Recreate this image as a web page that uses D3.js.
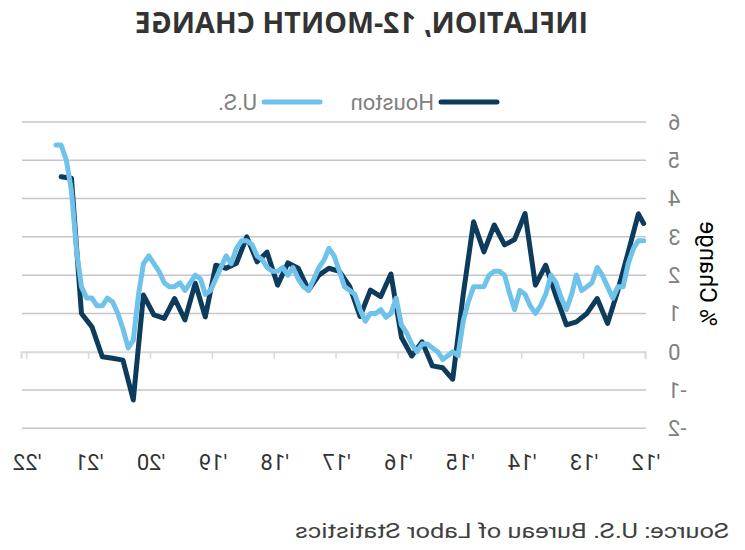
<!DOCTYPE html>
<html><head><meta charset="utf-8">
<script src="https://cdn.jsdelivr.net/npm/d3@7"></script>
<style>body{margin:0;background:#fff}svg{display:block}</style>
</head><body>
<script>
// ---- data ----
const titleText = "INFLATION, 12-MONTH CHANGE";
const yAxisTitle = "% Change";
const sourceText = "Source: U.S. Bureau of Labor Statistics";
const seriesNames = ["Houston", "U.S."];
const yTicks = [-2, -1, 0, 1, 2, 3, 4, 5, 6];
const xTickYears = [2012, 2013, 2014, 2015, 2016, 2017, 2018, 2019, 2020, 2021, 2022];

// U.S. CPI-U, 12-month % change, monthly Jan 2012 - Jul 2021
const usStartMonth = "2012-01";
const usValues = [
  2.9, 2.9, 2.7, 2.3, 1.7, 1.7, 1.4, 1.7, 2.0, 2.2, 1.8, 1.7,
  1.6, 2.0, 1.5, 1.1, 1.4, 1.8, 2.0, 1.5, 1.2, 1.0, 1.2, 1.5,
  1.6, 1.1, 1.5, 2.0, 2.1, 2.1, 2.0, 1.7, 1.7, 1.7, 1.3, 0.8,
  -0.1, 0.0, -0.1, -0.2, 0.0, 0.1, 0.2, 0.2, 0.0, 0.2, 0.5, 0.7,
  1.4, 1.0, 0.9, 1.1, 1.0, 1.0, 0.8, 1.1, 1.5, 1.6, 1.7, 2.1,
  2.5, 2.7, 2.4, 2.2, 1.9, 1.6, 1.7, 1.9, 2.2, 2.0, 2.2, 2.1,
  2.1, 2.2, 2.4, 2.5, 2.8, 2.9, 2.9, 2.7, 2.3, 2.5, 2.2, 1.9,
  1.6, 1.5, 1.9, 2.0, 1.8, 1.6, 1.8, 1.7, 1.7, 1.8, 2.1, 2.3,
  2.5, 2.3, 1.5, 0.3, 0.1, 0.6, 1.0, 1.3, 1.4, 1.2, 1.2, 1.4,
  1.4, 1.7, 2.6, 4.2, 5.0, 5.4, 5.4
];

// Houston CPI-U, 12-month % change (bimonthly)
const houstonMonths = [
  "2012-01","2012-02","2012-04","2012-06","2012-08","2012-10","2012-12",
  "2013-02","2013-04","2013-06","2013-08","2013-10","2013-12",
  "2014-02","2014-04","2014-06","2014-08","2014-10","2014-12",
  "2015-02","2015-04","2015-06","2015-08","2015-10","2015-12",
  "2016-02","2016-04","2016-06","2016-08","2016-10","2016-12",
  "2017-02","2017-04","2017-06","2017-08","2017-10","2017-12",
  "2018-02","2018-04","2018-06","2018-08","2018-10","2018-12",
  "2019-02","2019-04","2019-06","2019-08","2019-10","2019-12",
  "2020-02","2020-04","2020-06","2020-08","2020-10","2020-12",
  "2021-02","2021-04","2021-06"
];
const houstonValues = [
  3.35, 3.6, 2.6, 1.6, 0.74, 1.39, 1.0,
  0.78, 0.7, 1.45, 2.26, 1.74, 3.61,
  2.93, 2.79, 3.31, 2.61, 3.39, 1.5,
  -0.72, -0.42, -0.37, 0.26, -0.11, 0.38,
  2.03, 1.44, 1.61, 0.92, 1.7, 2.1,
  2.18, 2.0, 1.61, 2.18, 2.32, 1.74,
  2.6, 2.35, 3.0, 2.31, 2.18, 2.26,
  0.91, 1.79, 0.83, 1.39, 0.87, 0.96,
  1.48, -1.26, -0.22, -0.17, -0.13, 0.65,
  1.0, 4.53, 4.57
];

const colors = {Houston: "#0d3b5c", "U.S.": "#6fc3ea"};

// ---- build ----
const W = 745, H = 550;
const font = "Roboto,'Open Sans','Liberation Sans',Arial,sans-serif";
const titleFont = "'Open Sans',Roboto,'Liberation Sans',Arial,sans-serif";
const parseM = d3.timeParse("%Y-%m");
const mid = d => d3.timeDay.offset(parseM(d), 14);

const usStart = parseM(usStartMonth);
const usData = usValues.map((v, i) => ({date: d3.timeDay.offset(d3.timeMonth.offset(usStart, i), 14), value: v}));
const hoData = houstonMonths.map((m, i) => ({date: mid(m), value: houstonValues[i]}));

const x = d3.scaleTime()
  .domain([new Date(2012, 0, 1), new Date(2022, 1, 1)])
  .range([99, 723]);
const y = d3.scaleLinear().domain([-2, 6]).range([428.3, 122]);

const svg = d3.select("body").append("svg").attr("width", W).attr("height", H);
// whole chart is horizontally mirrored, as in the reference
const g = svg.append("g").attr("transform", `translate(${W},0) scale(-1,1)`);

// gridlines
g.append("g").selectAll("line").data(yTicks.filter(t => t !== 0)).join("line")
  .attr("x1", x.range()[0]).attr("x2", x.range()[1])
  .attr("y1", d => y(d)).attr("y2", d => y(d))
  .attr("stroke", "#c6c6c6").attr("stroke-width", 1.5);

// zero axis line with ticks
const xAxis = d3.axisBottom(x)
  .tickValues(xTickYears.map(yr => new Date(yr, 0, 1)))
  .tickSize(7).tickFormat("");
const ax = g.append("g").attr("transform", `translate(0,${y(0)})`).call(xAxis);
ax.select(".domain").attr("stroke", "#d9d9d9").attr("stroke-width", 2);
ax.selectAll(".tick line").attr("stroke", "#d9d9d9").attr("stroke-width", 1.5);

// x labels
g.append("g").selectAll("text").data(xTickYears).join("text")
  .attr("x", d => x(new Date(d, 0, 1))).attr("y", 470)
  .attr("text-anchor", "middle")
  .attr("font-family", font).attr("font-size", 22).attr("fill", "#333")
  .text(d => "'" + String(d).slice(2));

// y labels
g.append("g").selectAll("text").data(yTicks).join("text")
  .attr("x", 77).attr("y", d => y(d)).attr("dy", "0.36em")
  .attr("text-anchor", "end")
  .attr("font-family", font).attr("font-size", 22).attr("fill", "#808080")
  .text(d => d);

// y title
g.append("text")
  .attr("transform", `translate(37,274) rotate(-90)`)
  .attr("text-anchor", "middle").attr("dy", "0.35em")
  .attr("font-family", font).attr("font-size", 24).attr("fill", "#000")
  .text(yAxisTitle);

// lines
const line = d3.line().x(d => x(d.date)).y(d => y(d.value));
[["Houston", hoData], ["U.S.", usData]].forEach(([name, data]) => {
  g.append("path").datum(data)
    .attr("d", line).attr("fill", "none")
    .attr("stroke", colors[name]).attr("stroke-width", 5)
    .attr("stroke-linejoin", "round").attr("stroke-linecap", "round");
});

// title
g.append("text").attr("x", 383.5).attr("y", 33)
  .attr("text-anchor", "middle")
  .attr("font-family", titleFont).attr("font-weight", "bold")
  .attr("font-size", 28).attr("fill", "#333")
  .attr("textLength", 453).attr("lengthAdjust", "spacingAndGlyphs")
  .text(titleText);

// legend
const legendX = [248, 425];
seriesNames.forEach((name, i) => {
  const lg = g.append("g").attr("transform", `translate(${legendX[i]},102)`);
  lg.append("line").attr("x1", 0).attr("x2", 56).attr("y1", 0).attr("y2", 0)
    .attr("stroke", colors[name]).attr("stroke-width", 5).attr("stroke-linecap", "round");
  lg.append("text").attr("x", 63).attr("y", 0).attr("dy", "0.36em")
    .attr("font-family", font).attr("font-size", 22).attr("fill", "#808080")
    .text(name);
});

// source
g.append("text").attr("x", 16).attr("y", 538)
  .attr("font-family", font).attr("font-size", 20).attr("fill", "#404040")
  .attr("textLength", 434).attr("lengthAdjust", "spacingAndGlyphs")
  .text(sourceText);
</script>
</body></html>
